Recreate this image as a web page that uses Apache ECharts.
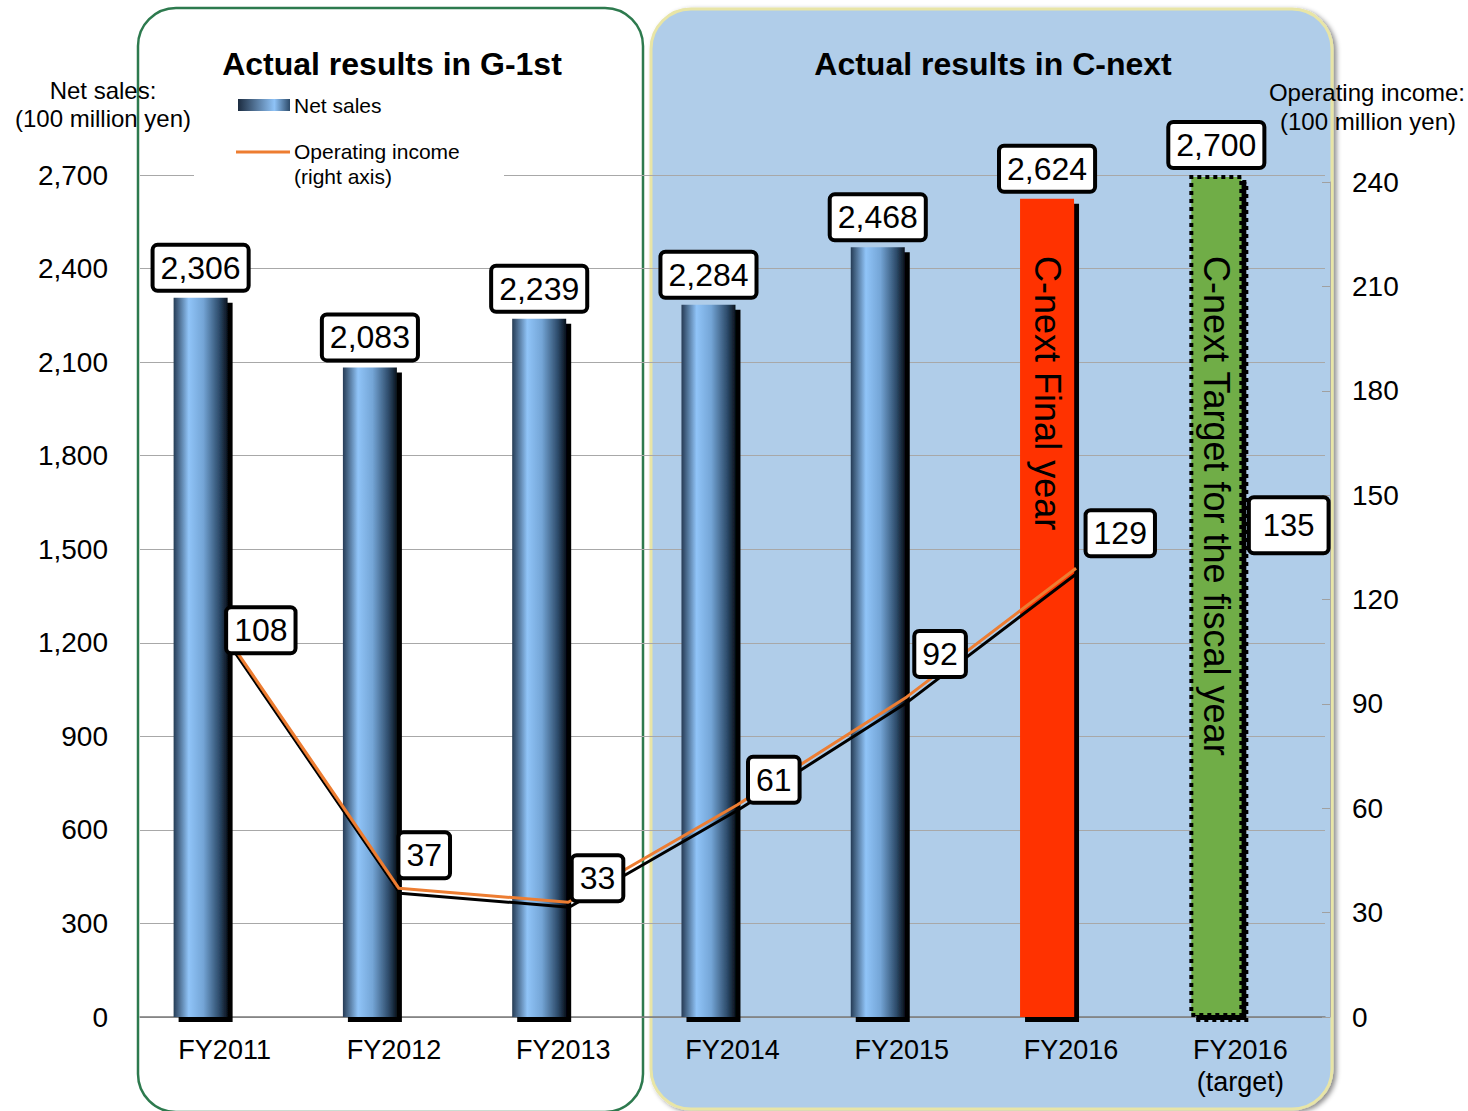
<!DOCTYPE html>
<html>
<head>
<meta charset="utf-8">
<script src="https://cdn.jsdelivr.net/npm/echarts@6/dist/echarts.min.js"></script>
<style>
html,body{margin:0;padding:0;background:#fff;}
#chart{width:1468px;height:1111px;}
</style>
</head>
<body>
<div id="chart"></div>
<script>
// ---- data ----
const categories = ['FY2011', 'FY2012', 'FY2013', 'FY2014', 'FY2015', 'FY2016', 'FY2016\n(target)'];
const netSales = [2306, 2083, 2239, 2284, 2468, 2624, 2700];
const operatingIncome = [108, 37, 33, 61, 92, 129];
const targetOperatingIncome = 135;
const leftAxis = { min: 0, max: 2700, interval: 300 };
const rightAxis = { min: 0, max: 240, interval: 30 };
const barNotes = [
  { index: 5, text: 'C-next Final year' },
  { index: 6, text: 'C-next Target for the fiscal year' }
];
const panelTitles = ['Actual results in G-1st', 'Actual results in C-next'];
const leftAxisName = ['Net sales:', '(100 million yen)'];
const rightAxisName = ['Operating income:', '(100 million yen)'];
const legendNames = ['Net sales', 'Operating income', '(right axis)'];

// ---- styles ----
const FONT = '"Liberation Sans", Arial, sans-serif';
const barGradient = new echarts.graphic.LinearGradient(0, 0, 1, 0, [
  { offset: 0, color: '#263c55' },
  { offset: 0.28, color: '#90c4f8' },
  { offset: 0.55, color: '#74a5d6' },
  { offset: 0.85, color: '#2c4a69' },
  { offset: 1, color: '#0a121c' }
]);
const boxLabel = {
  color: '#000', fontFamily: FONT, fontSize: 32, lineHeight: 36,
  backgroundColor: '#fff', borderColor: '#000', borderWidth: 4, borderRadius: 3,
  padding: [3, 6]
};
const incomeLabelOffsets = [[-2, -11], [1, -33], [5, -24], [12, -25], [9, -43], [11, -35]];

const barData = netSales.map((v, i) => {
  if (i === 5) return { value: v, itemStyle: { color: '#ff3300' } };
  if (i === 6) return { value: v, itemStyle: { color: '#70ad47', borderColor: '#000', borderWidth: 4, borderType: [4, 4] } };
  return { value: v };
});
const lineData = operatingIncome.map((v, i) => ({
  value: v,
  label: { position: 'right', distance: 0, offset: incomeLabelOffsets[i] }
}));
const targetData = categories.map((c, i) => (i === 6 ? targetOperatingIncome : '-'));

const chart = echarts.init(document.getElementById('chart'), null, { renderer: 'svg' });
chart.setOption({
  backgroundColor: '#fff',
  animation: false,
  grid: [
    { left: 140, right: 143, top: 175, bottom: 94 },
    { left: 145, right: 138, top: 182, bottom: 94 }
  ],
  xAxis: [
    {
      type: 'category', gridIndex: 0,
      data: categories,
      axisLine: { lineStyle: { color: '#7a7a7a', width: 1.5 } },
      axisTick: { inside: true, length: 8, lineStyle: { color: '#555' } },
      axisLabel: { color: '#000', fontFamily: FONT, fontSize: 27, lineHeight: 32, margin: 17 }
    },
    { type: 'category', gridIndex: 1, data: categories, show: false }
  ],
  yAxis: [
    {
      type: 'value', gridIndex: 0, min: leftAxis.min, max: leftAxis.max, interval: leftAxis.interval,
      axisLine: { show: false }, axisTick: { show: false },
      splitLine: { lineStyle: { color: '#a8a8a8', width: 1 } },
      axisLabel: { color: '#000', fontFamily: FONT, fontSize: 28, margin: 32,
        formatter: v => v.toLocaleString('en-US') }
    },
    {
      type: 'value', gridIndex: 1, min: rightAxis.min, max: rightAxis.max, interval: rightAxis.interval,
      position: 'right',
      axisLine: { show: true, lineStyle: { color: '#a8a8a8' } },
      axisTick: { show: true, inside: true, length: 8, lineStyle: { color: '#a0a0a0' } },
      splitLine: { show: false },
      axisLabel: { color: '#000', fontFamily: FONT, fontSize: 28, margin: 22 }
    }
  ],
  series: [
    {
      name: 'Net sales', type: 'bar', data: barData, barWidth: 54, barGap: '-11%',
      itemStyle: { color: barGradient, shadowColor: '#000', shadowOffsetX: 5, shadowOffsetY: 5, shadowBlur: 0 },
      label: Object.assign({ show: true, position: 'top', distance: 9,
        formatter: p => p.value.toLocaleString('en-US') }, boxLabel)
    },
    { name: 'spacer', type: 'bar', data: categories.map(() => '-'), barWidth: 54, silent: true },
    {
      name: 'Operating income', type: 'line', xAxisIndex: 1, yAxisIndex: 1, data: lineData,
      symbol: 'circle', symbolSize: 1, showSymbol: true, z: 4,
      itemStyle: { color: 'rgba(0,0,0,0)' },
      lineStyle: { color: '#ed7d31', width: 3, shadowColor: '#000', shadowOffsetX: 1, shadowOffsetY: 5, shadowBlur: 0 },
      label: Object.assign({ show: true }, boxLabel)
    },
    {
      name: 'Operating income target', type: 'scatter', xAxisIndex: 1, yAxisIndex: 1, data: targetData,
      symbolSize: 1, itemStyle: { color: 'rgba(0,0,0,0)', opacity: 1 }, z: 5,
      label: Object.assign({}, boxLabel, { show: true, position: 'right', distance: 0, offset: [5, -22],
        fontSize: 31, padding: [8, 12] })
    },
    {
      name: 'notes', type: 'custom', data: barNotes.map(n => [n.index, 2440, n.text]), z: 6, silent: true,
      renderItem: (params, api) => {
        const pt = api.coord([api.value(0), api.value(1)]);
        return {
          type: 'text', x: pt[0] - 24, y: pt[1], rotation: -Math.PI / 2,
          style: { text: barNotes[params.dataIndex].text, font: '36px ' + FONT, fill: '#000',
            align: 'left', verticalAlign: 'middle' }
        };
      }
    }
  ],
  graphic: [
    { type: 'rect', z: -10, shape: { x: 138, y: 8, width: 505, height: 1104, r: 38 },
      style: { fill: '#fff', stroke: '#2d7a4e', lineWidth: 2.5 } },
    { type: 'rect', z: -10, shape: { x: 651, y: 9, width: 681, height: 1100, r: 40 },
      style: { fill: '#b0cde9', stroke: '#e8e5a6', lineWidth: 3,
        shadowColor: 'rgba(0,0,0,0.45)', shadowBlur: 5, shadowOffsetX: 3, shadowOffsetY: 2 } },
    { type: 'text', z: 20, style: { x: 392, y: 64, text: panelTitles[0], font: 'bold 32px ' + FONT, fill: '#000', align: 'center', verticalAlign: 'middle' } },
    { type: 'text', z: 20, style: { x: 993, y: 64, text: panelTitles[1], font: 'bold 32px ' + FONT, fill: '#000', align: 'center', verticalAlign: 'middle' } },
    { type: 'text', z: 20, style: { x: 103, y: 90, text: leftAxisName[0], font: '24px ' + FONT, fill: '#000', align: 'center', verticalAlign: 'middle' } },
    { type: 'text', z: 20, style: { x: 103, y: 118, text: leftAxisName[1], font: '24px ' + FONT, fill: '#000', align: 'center', verticalAlign: 'middle' } },
    { type: 'text', z: 20, style: { x: 1367, y: 92, text: rightAxisName[0], font: '24px ' + FONT, fill: '#000', align: 'center', verticalAlign: 'middle' } },
    { type: 'text', z: 20, style: { x: 1368, y: 121, text: rightAxisName[1], font: '24px ' + FONT, fill: '#000', align: 'center', verticalAlign: 'middle' } },
    // legend
    { type: 'rect', z: 10, shape: { x: 194, y: 92, width: 310, height: 100 }, style: { fill: '#fff' } },
    { type: 'rect', z: 11, shape: { x: 238, y: 99, width: 52, height: 12 },
      style: { fill: new echarts.graphic.LinearGradient(0, 0, 1, 0, [
        { offset: 0, color: '#1c2c40' }, { offset: 0.7, color: '#8fc3f7' }, { offset: 1, color: '#2c4a69' }]) } },
    { type: 'text', z: 11, style: { x: 294, y: 105, text: legendNames[0], font: '21px ' + FONT, fill: '#000', align: 'left', verticalAlign: 'middle' } },
    { type: 'line', z: 11, shape: { x1: 236, y1: 152, x2: 290, y2: 152 }, style: { stroke: '#ed7d31', lineWidth: 3 } },
    { type: 'text', z: 11, style: { x: 294, y: 151, text: legendNames[1], font: '21px ' + FONT, fill: '#000', align: 'left', verticalAlign: 'middle' } },
    { type: 'text', z: 11, style: { x: 294, y: 176, text: legendNames[2], font: '21px ' + FONT, fill: '#000', align: 'left', verticalAlign: 'middle' } }
  ]
});
</script>
</body>
</html>
